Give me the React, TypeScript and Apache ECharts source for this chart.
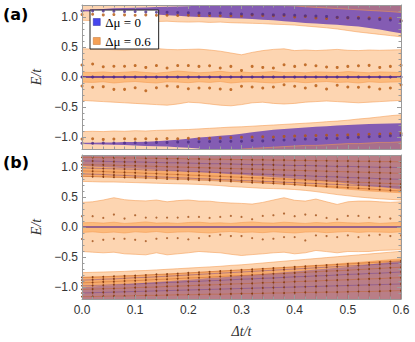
import React, { useEffect, useRef } from 'react';
import * as echarts from 'echarts';

// ---------- data ----------
const xs = [0, 0.02, 0.04, 0.06, 0.08, 0.1, 0.12, 0.14, 0.16, 0.18, 0.2, 0.22, 0.24, 0.26, 0.28, 0.3, 0.32, 0.34, 0.36, 0.38, 0.4, 0.42, 0.44, 0.46, 0.48, 0.5, 0.52, 0.54, 0.56, 0.58, 0.6];
const xTickLabels = ['0.0', '0.1', '0.2', '0.3', '0.4', '0.5', '0.6'];
const yMajor = [-1, -0.5, 0, 0.5, 1];

// panel (a)
const aTopPurpleLo = [1.095, 1.09, 1.08, 1.075, 1.07, 1.06, 1.05, 1.04, 1.03, 1.02, 1.01, 1.0, 0.995, 0.99, 0.98, 0.975, 0.965, 0.955, 0.945, 0.93, 0.915, 0.9, 0.89, 0.88, 0.87, 0.855, 0.84, 0.815, 0.79, 0.76, 0.73];
const aTopPurpleHi = [1.115, 1.125, 1.135, 1.145, 1.15, 1.155, 1.16, 1.165, 1.17, 1.175, 1.18, 1.19, 1.2, 1.3, 1.3, 1.3, 1.3, 1.3, 1.3, 1.3, 1.3, 1.3, 1.3, 1.3, 1.3, 1.3, 1.3, 1.3, 1.3, 1.3, 1.3];
const aTopOrangeLo = [0.945, 0.94, 0.945, 0.935, 0.94, 0.93, 0.935, 0.925, 0.93, 0.92, 0.915, 0.92, 0.91, 0.915, 0.905, 0.9, 0.895, 0.89, 0.88, 0.875, 0.865, 0.85, 0.835, 0.82, 0.8, 0.775, 0.75, 0.73, 0.71, 0.69, 0.67];
const aTopExtraLo = [1.3, 1.3, 1.3, 1.3, 1.3, 1.3, 1.3, 1.3, 1.3, 1.3, 1.3, 1.3, 1.3, 1.3, 1.3, 1.3, 1.3, 1.3, 1.2, 1.19, 1.185, 1.17, 1.16, 1.15, 1.14, 1.13, 1.12, 1.11, 1.1, 1.09, 1.075];
const aMidHi = [0.47, 0.465, 0.46, 0.455, 0.45, 0.46, 0.47, 0.475, 0.46, 0.455, 0.46, 0.465, 0.45, 0.43, 0.4, 0.37, 0.41, 0.44, 0.46, 0.47, 0.44, 0.45, 0.44, 0.45, 0.46, 0.445, 0.44, 0.45, 0.445, 0.45, 0.455];
const aMidLo = [-0.39, -0.4, -0.41, -0.42, -0.43, -0.44, -0.45, -0.46, -0.47, -0.45, -0.42, -0.43, -0.45, -0.47, -0.48, -0.46, -0.43, -0.42, -0.44, -0.45, -0.44, -0.42, -0.41, -0.4, -0.41, -0.42, -0.43, -0.42, -0.41, -0.4, -0.39];
const aInnerHi = [0.08, 0.075, 0.085, 0.07, 0.08, 0.09, 0.075, 0.065, 0.08, 0.1, 0.085, 0.07, 0.08, 0.095, 0.075, 0.085, 0.07, 0.08, 0.09, 0.075, 0.08, 0.07, 0.085, 0.08, 0.075, 0.09, 0.08, 0.07, 0.085, 0.08, 0.075];
const aInnerLo = [-0.085, -0.09, -0.08, -0.1, -0.085, -0.075, -0.09, -0.1, -0.08, -0.085, -0.095, -0.08, -0.09, -0.075, -0.1, -0.085, -0.08, -0.09, -0.1, -0.085, -0.08, -0.095, -0.085, -0.075, -0.09, -0.085, -0.1, -0.08, -0.09, -0.085, -0.08];
const aBotOrangeHi = [-0.91, -0.905, -0.91, -0.9, -0.905, -0.895, -0.9, -0.89, -0.885, -0.88, -0.875, -0.865, -0.855, -0.845, -0.835, -0.83, -0.82, -0.81, -0.8, -0.79, -0.78, -0.77, -0.76, -0.745, -0.735, -0.72, -0.7, -0.685, -0.665, -0.645, -0.63];
const aBotPurpleHi = [-1.095, -1.095, -1.09, -1.09, -1.085, -1.085, -1.08, -1.07, -1.06, -1.045, -1.03, -1.01, -0.995, -0.98, -0.965, -0.945, -0.92, -0.9, -0.88, -0.865, -0.855, -0.84, -0.83, -0.82, -0.81, -0.8, -0.79, -0.785, -0.78, -0.775, -0.77];
const aBotPurpleLo = [-1.115, -1.12, -1.125, -1.13, -1.135, -1.14, -1.15, -1.155, -1.16, -1.17, -1.18, -1.19, -1.3, -1.3, -1.3, -1.3, -1.3, -1.3, -1.3, -1.3, -1.3, -1.3, -1.3, -1.3, -1.3, -1.3, -1.3, -1.3, -1.3, -1.3, -1.3];
const aBotExtraHi = [-1.3, -1.3, -1.3, -1.3, -1.3, -1.3, -1.3, -1.3, -1.3, -1.3, -1.3, -1.3, -1.3, -1.3, -1.3, -1.2, -1.19, -1.18, -1.17, -1.16, -1.15, -1.14, -1.14, -1.13, -1.12, -1.11, -1.11, -1.1, -1.09, -1.09, -1.08];
const aZero = [0, 0, 0, 0, 0, 0, 0, 0, 0, 0, 0, 0, 0, 0, 0, 0, 0, 0, 0, 0, 0, 0, 0, 0, 0, 0, 0, 0, 0, 0, 0];
const aDotPurpleTop = [1.105, 1.1, 1.1, 1.095, 1.09, 1.09, 1.085, 1.08, 1.08, 1.075, 1.07, 1.065, 1.06, 1.065, 1.055, 1.05, 1.045, 1.045, 1.035, 1.04, 1.03, 1.02, 1.015, 1.01, 0.995, 0.99, 0.98, 0.97, 0.96, 0.95, 0.93];
const aDotOrangeTop = [1.04, 1.045, 1.035, 1.04, 1.035, 1.03, 1.035, 1.03, 1.03, 1.025, 1.03, 1.027, 1.025, 1.02, 1.02, 1.015, 1.035, 1.025, 1.02, 1.025, 1.0, 1.01, 0.985, 0.975, 0.99, 0.985, 0.99, 0.985, 0.98, 0.975, 0.94];
const aDotOrangeUp = [0.2, 0.217, 0.17, 0.18, 0.18, 0.19, 0.16, 0.19, 0.15, 0.19, 0.19, 0.177, 0.188, 0.149, 0.177, 0.11, 0.177, 0.16, 0.149, 0.205, 0.177, 0.205, 0.188, 0.166, 0.16, 0.177, 0.188, 0.194, 0.16, 0.177, 0.194];
const aDotOrangeDown = [-0.15, -0.172, -0.161, -0.206, -0.206, -0.178, -0.228, -0.178, -0.15, -0.161, -0.195, -0.183, -0.183, -0.2, -0.21, -0.155, -0.166, -0.183, -0.166, -0.128, -0.155, -0.183, -0.144, -0.2, -0.138, -0.166, -0.172, -0.166, -0.2, -0.183, -0.128];
const aDotOrangeBot = [-1.035, -1.03, -1.04, -1.035, -1.03, -1.035, -1.03, -1.035, -1.025, -1.03, -1.02, -1.025, -1.02, -1.015, -1.01, -1.005, -1.0, -0.995, -1.0, -0.99, -0.985, -0.98, -0.975, -0.97, -0.97, -0.965, -0.96, -0.955, -0.95, -0.945, -0.94];
const aDotPurpleBot = [-1.105, -1.105, -1.1, -1.1, -1.1, -1.095, -1.095, -1.09, -1.09, -1.085, -1.085, -1.08, -1.075, -1.075, -1.07, -1.07, -1.06, -1.065, -1.05, -1.05, -1.045, -1.035, -1.04, -1.02, -1.025, -1.01, -1.005, -0.995, -0.99, -0.98, -0.97];

// panel (b)
const bTopLightLo = [0.76, 0.755, 0.75, 0.75, 0.745, 0.74, 0.735, 0.73, 0.725, 0.72, 0.715, 0.71, 0.7, 0.69, 0.675, 0.665, 0.655, 0.645, 0.64, 0.635, 0.625, 0.61, 0.59, 0.565, 0.54, 0.52, 0.5, 0.485, 0.47, 0.46, 0.45];
const bTopMedLo = [0.84, 0.84, 0.835, 0.83, 0.83, 0.825, 0.82, 0.815, 0.81, 0.805, 0.8, 0.79, 0.785, 0.775, 0.765, 0.755, 0.745, 0.735, 0.725, 0.715, 0.705, 0.69, 0.675, 0.66, 0.645, 0.63, 0.615, 0.6, 0.59, 0.58, 0.57];
const bTopPurpleLo = [1.02, 1.01, 1.0, 0.99, 0.98, 0.975, 0.965, 0.955, 0.945, 0.935, 0.925, 0.915, 0.905, 0.895, 0.88, 0.87, 0.855, 0.845, 0.83, 0.82, 0.805, 0.79, 0.775, 0.76, 0.745, 0.725, 0.705, 0.685, 0.665, 0.645, 0.625];
const bBotLightHi = [-0.76, -0.755, -0.75, -0.745, -0.74, -0.73, -0.725, -0.715, -0.705, -0.695, -0.685, -0.675, -0.665, -0.655, -0.64, -0.63, -0.615, -0.6, -0.585, -0.57, -0.555, -0.54, -0.525, -0.51, -0.495, -0.48, -0.465, -0.45, -0.435, -0.42, -0.405];
const bBotMedHi = [-0.84, -0.835, -0.83, -0.825, -0.815, -0.81, -0.8, -0.795, -0.785, -0.775, -0.765, -0.755, -0.745, -0.735, -0.725, -0.715, -0.705, -0.695, -0.685, -0.675, -0.665, -0.65, -0.64, -0.63, -0.615, -0.6, -0.59, -0.575, -0.56, -0.545, -0.53];
const bBotPurpleHi = [-1.0, -0.99, -0.98, -0.97, -0.955, -0.94, -0.93, -0.915, -0.905, -0.89, -0.88, -0.865, -0.85, -0.84, -0.825, -0.81, -0.8, -0.785, -0.77, -0.755, -0.74, -0.725, -0.71, -0.695, -0.68, -0.665, -0.645, -0.625, -0.605, -0.585, -0.565];
const bMidHi = [0.41, 0.42, 0.45, 0.488, 0.455, 0.44, 0.435, 0.45, 0.42, 0.44, 0.45, 0.432, 0.43, 0.41, 0.4, 0.393, 0.382, 0.41, 0.45, 0.488, 0.445, 0.432, 0.466, 0.42, 0.376, 0.42, 0.432, 0.432, 0.42, 0.41, 0.42];
const bMidLo = [-0.408, -0.42, -0.43, -0.42, -0.447, -0.455, -0.464, -0.43, -0.464, -0.447, -0.43, -0.408, -0.42, -0.43, -0.455, -0.475, -0.46, -0.447, -0.43, -0.42, -0.447, -0.43, -0.391, -0.41, -0.43, -0.408, -0.41, -0.408, -0.39, -0.385, -0.375];
const bInnerHi = [0.07, 0.075, 0.065, 0.08, 0.06, 0.07, 0.085, 0.065, 0.07, 0.06, 0.075, 0.08, 0.065, 0.07, 0.06, 0.075, 0.085, 0.07, 0.065, 0.08, 0.07, 0.06, 0.075, 0.065, 0.08, 0.07, 0.065, 0.075, 0.06, 0.07, 0.075];
const bInnerLo = [-0.09, -0.08, -0.095, -0.085, -0.1, -0.08, -0.09, -0.075, -0.095, -0.085, -0.08, -0.09, -0.1, -0.085, -0.075, -0.09, -0.085, -0.095, -0.08, -0.09, -0.1, -0.085, -0.08, -0.095, -0.085, -0.075, -0.09, -0.08, -0.085, -0.09, -0.08];
const bDotUp = [0.18, 0.18, 0.152, 0.208, 0.141, 0.196, 0.157, 0.157, 0.157, 0.157, 0.168, 0.168, 0.152, 0.168, 0.185, 0.168, 0.129, 0.185, 0.196, 0.224, 0.18, 0.208, 0.196, 0.152, 0.129, 0.185, 0.185, 0.157, 0.168, 0.141, 0.185];
const bDotDown = [-0.2, -0.235, -0.213, -0.196, -0.196, -0.213, -0.235, -0.196, -0.185, -0.185, -0.207, -0.185, -0.151, -0.129, -0.151, -0.151, -0.185, -0.207, -0.196, -0.168, -0.168, -0.224, -0.14, -0.151, -0.168, -0.14, -0.168, -0.14, -0.129, -0.151, -0.14];
const bStripeT1 = [1.16, 1.16, 1.155, 1.155, 1.15, 1.15, 1.145, 1.145, 1.14, 1.14, 1.135, 1.135, 1.13, 1.13, 1.125, 1.125, 1.12, 1.12, 1.115, 1.115, 1.11, 1.11, 1.105, 1.105, 1.1, 1.1, 1.095, 1.095, 1.09, 1.09, 1.085];
const bStripeT2 = [1.1, 1.1, 1.095, 1.09, 1.085, 1.085, 1.08, 1.075, 1.07, 1.07, 1.065, 1.06, 1.055, 1.055, 1.05, 1.045, 1.04, 1.04, 1.035, 1.03, 1.025, 1.025, 1.02, 1.015, 1.01, 1.01, 1.005, 1.0, 0.995, 0.995, 0.99];
const bStripeT3 = [1.04, 1.035, 1.035, 1.03, 1.025, 1.02, 1.015, 1.01, 1.005, 1.0, 0.995, 0.99, 0.985, 0.98, 0.975, 0.97, 0.965, 0.96, 0.955, 0.95, 0.945, 0.94, 0.935, 0.93, 0.925, 0.92, 0.915, 0.91, 0.905, 0.9, 0.895];
const bStripeT4 = [0.985, 0.98, 0.975, 0.97, 0.965, 0.96, 0.95, 0.945, 0.94, 0.935, 0.925, 0.92, 0.915, 0.905, 0.9, 0.895, 0.885, 0.88, 0.875, 0.865, 0.86, 0.855, 0.845, 0.84, 0.835, 0.825, 0.82, 0.815, 0.805, 0.8, 0.795];
const bStripeT5 = [0.935, 0.93, 0.925, 0.915, 0.91, 0.905, 0.895, 0.89, 0.88, 0.875, 0.865, 0.86, 0.85, 0.845, 0.835, 0.83, 0.82, 0.815, 0.805, 0.8, 0.79, 0.785, 0.775, 0.77, 0.76, 0.755, 0.745, 0.74, 0.73, 0.725, 0.715];
const bStripeT6 = [0.885, 0.88, 0.875, 0.865, 0.86, 0.85, 0.845, 0.835, 0.83, 0.82, 0.815, 0.805, 0.8, 0.79, 0.785, 0.775, 0.77, 0.76, 0.755, 0.745, 0.74, 0.73, 0.725, 0.715, 0.71, 0.7, 0.695, 0.685, 0.68, 0.67, 0.665];
const bStripeT7 = [0.845, 0.84, 0.835, 0.83, 0.825, 0.82, 0.815, 0.81, 0.8, 0.795, 0.79, 0.78, 0.775, 0.765, 0.76, 0.75, 0.74, 0.735, 0.725, 0.715, 0.705, 0.695, 0.685, 0.675, 0.665, 0.655, 0.645, 0.635, 0.62, 0.61, 0.6];
const bStripeB1 = [-1.16, -1.16, -1.155, -1.15, -1.15, -1.145, -1.14, -1.14, -1.135, -1.13, -1.13, -1.125, -1.12, -1.12, -1.115, -1.11, -1.11, -1.105, -1.1, -1.1, -1.095, -1.09, -1.09, -1.085, -1.085, -1.08, -1.075, -1.075, -1.07, -1.065, -1.06];
const bStripeB2 = [-1.1, -1.095, -1.09, -1.085, -1.08, -1.075, -1.07, -1.065, -1.06, -1.055, -1.05, -1.045, -1.04, -1.035, -1.03, -1.025, -1.02, -1.015, -1.01, -1.005, -1.0, -0.995, -0.99, -0.985, -0.98, -0.975, -0.97, -0.965, -0.96, -0.955, -0.95];
const bStripeB3 = [-1.04, -1.035, -1.03, -1.025, -1.02, -1.01, -1.005, -1.0, -0.99, -0.985, -0.98, -0.97, -0.965, -0.96, -0.95, -0.945, -0.94, -0.93, -0.925, -0.92, -0.91, -0.905, -0.9, -0.89, -0.885, -0.88, -0.87, -0.865, -0.86, -0.85, -0.845];
const bStripeB4 = [-0.98, -0.975, -0.97, -0.96, -0.955, -0.95, -0.94, -0.935, -0.925, -0.92, -0.91, -0.905, -0.895, -0.89, -0.88, -0.87, -0.865, -0.855, -0.85, -0.84, -0.83, -0.825, -0.815, -0.81, -0.8, -0.79, -0.785, -0.775, -0.77, -0.76, -0.75];
const bStripeB5 = [-0.93, -0.925, -0.915, -0.91, -0.9, -0.895, -0.885, -0.875, -0.87, -0.86, -0.85, -0.845, -0.835, -0.825, -0.815, -0.81, -0.8, -0.79, -0.78, -0.775, -0.765, -0.755, -0.745, -0.735, -0.73, -0.72, -0.71, -0.7, -0.69, -0.68, -0.67];
const bStripeB6 = [-0.885, -0.88, -0.87, -0.865, -0.855, -0.845, -0.84, -0.83, -0.82, -0.81, -0.8, -0.79, -0.78, -0.77, -0.76, -0.75, -0.74, -0.73, -0.72, -0.71, -0.7, -0.69, -0.68, -0.67, -0.66, -0.65, -0.64, -0.63, -0.62, -0.61, -0.6];
const bStripeB7 = [-0.84, -0.835, -0.83, -0.82, -0.815, -0.81, -0.8, -0.79, -0.785, -0.775, -0.765, -0.755, -0.745, -0.735, -0.725, -0.715, -0.705, -0.695, -0.685, -0.675, -0.665, -0.655, -0.645, -0.635, -0.625, -0.615, -0.605, -0.595, -0.585, -0.575, -0.565];

// ---------- styling ----------
const PURPLE_NAME = 'Δμ = 0';
const ORANGE_NAME = 'Δμ = 0.6';
const Y_MIN = -1.2;
const Y_MAX = 1.2;
const TOP = 1.3;
const BOT = -1.3;
const LIGHT = 'rgba(250,150,60,0.4)';
const INNER = 'rgba(250,150,50,0.42)';
const MED = 'rgba(240,130,40,0.5)';
const EXTRA = 'rgba(235,145,70,0.35)';
const EDGE = 'rgba(245,155,80,0.7)';
const PURPLE_A = 'rgba(110,70,180,0.85)';
const PURPLE_B = 'rgba(100,65,175,0.42)';
const STRIPE_O = 'rgba(195,95,35,0.5)';
const STRIPE_P = 'rgba(95,55,150,0.45)';
const FRAME = '#9a9a9a';

type Edge = number[] | number;
const at = (e: Edge, i: number) => (typeof e === 'number' ? e : e[i]);

function band(name: string, gi: number, lo: Edge, hi: Edge, fill: string, stroke: string | null, z: number) {
  return {
    type: 'custom',
    name,
    xAxisIndex: gi * 2,
    yAxisIndex: gi * 4,
    clip: true,
    silent: true,
    z,
    data: [[0, 0]],
    renderItem: (_p: any, api: any) => {
      const pts: number[][] = [];
      for (let i = 0; i < xs.length; i++) pts.push(api.coord([xs[i], at(hi, i)]));
      for (let i = xs.length - 1; i >= 0; i--) pts.push(api.coord([xs[i], at(lo, i)]));
      return {
        type: 'polygon',
        shape: { points: pts },
        style: { fill, stroke: stroke || 'none', lineWidth: 0.8 },
      };
    },
  };
}

function dots(gi: number, arr: number[], color: string, size: number, z: number) {
  return {
    type: 'scatter',
    xAxisIndex: gi * 2,
    yAxisIndex: gi * 4,
    silent: true,
    z,
    symbolSize: size,
    itemStyle: { color },
    data: xs.map((x, i) => [x, arr[i]]),
  };
}

function stripe(gi: number, arr: number[], color: string, z: number) {
  return {
    type: 'line',
    xAxisIndex: gi * 2,
    yAxisIndex: gi * 4,
    silent: true,
    z,
    symbol: 'circle',
    symbolSize: 1.8,
    showSymbol: true,
    showAllSymbol: true,
    lineStyle: { color, width: 0.9 },
    itemStyle: { color: '#8a4015' },
    data: xs.map((x, i) => [x, arr[i]]),
  };
}

function vlines(gi: number, from: number[], to: number, z: number) {
  return {
    type: 'custom',
    xAxisIndex: gi * 2,
    yAxisIndex: gi * 4,
    clip: true,
    silent: true,
    z,
    data: xs.map((x, i) => [x, from[i]]),
    renderItem: (_p: any, api: any) => {
      const a = api.coord([api.value(0), api.value(1)]);
      const b = api.coord([api.value(0), to]);
      return {
        type: 'line',
        shape: { x1: a[0], y1: a[1], x2: b[0], y2: b[1] },
        style: { stroke: 'rgba(120,50,20,0.28)', lineWidth: 0.8 },
      };
    },
  };
}

function zeroLine(gi: number, width: number, withDots: boolean) {
  return {
    type: 'line',
    xAxisIndex: gi * 2,
    yAxisIndex: gi * 4,
    silent: true,
    z: 8,
    symbol: 'circle',
    symbolSize: withDots ? 3 : 0,
    showSymbol: withDots,
    showAllSymbol: true,
    lineStyle: { color: '#76468f', width },
    itemStyle: { color: '#55308a' },
    data: xs.map((x, i) => [x, aZero[i]]),
  };
}

const labelFont = { color: '#333', fontFamily: 'Liberation Sans', fontSize: 12 };
const nameFont = { color: '#333', fontFamily: 'Liberation Serif', fontStyle: 'italic', fontSize: 14 };

function xAxis(gi: number, position: string, labels: boolean) {
  return {
    type: 'value',
    gridIndex: gi,
    position,
    min: 0,
    max: 0.6,
    interval: 0.1,
    z: 10,
    axisLine: { show: true, onZero: false, lineStyle: { color: FRAME, width: 1 } },
    axisTick: { show: true, inside: true, length: 4, lineStyle: { color: FRAME } },
    minorTick: { show: true, splitNumber: 5, length: 2.5, lineStyle: { color: FRAME } },
    axisLabel: {
      show: labels,
      margin: 5,
      ...labelFont,
      formatter: (v: number) => xTickLabels[Math.round(v * 10)] ?? '',
    },
    splitLine: { show: false },
    minorSplitLine: { show: false },
    name: labels ? 'Δt/t' : '',
    nameLocation: 'middle',
    nameGap: 25,
    nameTextStyle: nameFont,
  };
}

function yAxes(gi: number) {
  const fmt = (v: number) => (v < -1e-9 ? '−' : '') + Math.abs(v).toFixed(1);
  const major = (position: string, labels: boolean) => ({
    type: 'value',
    gridIndex: gi,
    position,
    min: Y_MIN,
    max: Y_MAX,
    interval: 0.1,
    z: 10,
    axisLine: { show: true, onZero: false, lineStyle: { color: FRAME, width: 1 } },
    axisTick: { show: true, inside: true, length: 4, customValues: yMajor, lineStyle: { color: FRAME } },
    axisLabel: { show: labels, customValues: yMajor, margin: 4, ...labelFont, formatter: fmt },
    splitLine: { show: false },
    name: labels ? 'E/t' : '',
    nameLocation: 'middle',
    nameGap: 33,
    nameTextStyle: nameFont,
  });
  const minor = (position: string) => ({
    type: 'value',
    gridIndex: gi,
    position,
    min: Y_MIN,
    max: Y_MAX,
    interval: 0.1,
    z: 10,
    axisLine: { show: false, onZero: false },
    axisTick: { show: true, inside: true, length: 2.5, lineStyle: { color: FRAME } },
    axisLabel: { show: false },
    splitLine: { show: false },
  });
  return [major('left', true), minor('left'), major('right', false), minor('right')];
}

const seriesA = [
  band(ORANGE_NAME, 0, aTopOrangeLo, TOP, LIGHT, EDGE, 1),
  band(ORANGE_NAME, 0, aMidLo, aMidHi, LIGHT, EDGE, 1),
  band(ORANGE_NAME, 0, BOT, aBotOrangeHi, LIGHT, EDGE, 1),
  band(ORANGE_NAME, 0, aInnerLo, aInnerHi, INNER, EDGE, 2),
  band(PURPLE_NAME, 0, aTopPurpleLo, aTopPurpleHi, PURPLE_A, null, 3),
  band(PURPLE_NAME, 0, aBotPurpleLo, aBotPurpleHi, PURPLE_A, null, 3),
  band(ORANGE_NAME, 0, aTopExtraLo, TOP, EXTRA, EDGE, 4),
  band(ORANGE_NAME, 0, BOT, aBotExtraHi, EXTRA, EDGE, 4),
  zeroLine(0, 2, true),
  dots(0, aDotOrangeTop, '#b4560c', 3, 9),
  dots(0, aDotOrangeUp, '#b4560c', 3, 9),
  dots(0, aDotOrangeDown, '#b4560c', 3, 9),
  dots(0, aDotOrangeBot, '#b4560c', 3, 9),
  dots(0, aDotPurpleTop, '#4b2d85', 3, 9),
  dots(0, aDotPurpleBot, '#4b2d85', 3, 9),
];

const topStripes = [bStripeT1, bStripeT2, bStripeT3, bStripeT4, bStripeT5, bStripeT6, bStripeT7];
const botStripes = [bStripeB1, bStripeB2, bStripeB3, bStripeB4, bStripeB5, bStripeB6, bStripeB7];

const seriesB = [
  band(ORANGE_NAME, 1, bTopLightLo, TOP, LIGHT, EDGE, 1),
  band(ORANGE_NAME, 1, BOT, bBotLightHi, LIGHT, EDGE, 1),
  band(ORANGE_NAME, 1, bMidLo, bMidHi, LIGHT, EDGE, 1),
  band(ORANGE_NAME, 1, bInnerLo, bInnerHi, INNER, EDGE, 2),
  band(ORANGE_NAME, 1, bTopMedLo, TOP, MED, EDGE, 2),
  band(ORANGE_NAME, 1, BOT, bBotMedHi, MED, EDGE, 2),
  band(PURPLE_NAME, 1, bTopPurpleLo, TOP, PURPLE_B, null, 3),
  band(PURPLE_NAME, 1, BOT, bBotPurpleHi, PURPLE_B, null, 3),
  ...topStripes.map((s, k) => stripe(1, s, k % 2 ? STRIPE_P : STRIPE_O, 5)),
  ...botStripes.map((s, k) => stripe(1, s, k % 2 ? STRIPE_P : STRIPE_O, 5)),
  vlines(1, bStripeT7, Y_MAX, 6),
  vlines(1, bStripeB7, Y_MIN, 6),
  zeroLine(1, 1.5, false),
  dots(1, bDotUp, '#a0501a', 2.2, 9),
  dots(1, bDotDown, '#a0501a', 2.2, 9),
];

const option: any = {
  animation: false,
  backgroundColor: '#fff',
  grid: [
    { left: 82, top: 5, width: 319, height: 144 },
    { left: 82, top: 155, width: 319, height: 144 },
  ],
  xAxis: [xAxis(0, 'bottom', false), xAxis(0, 'top', false), xAxis(1, 'bottom', true), xAxis(1, 'top', false)],
  yAxis: [...yAxes(0), ...yAxes(1)],
  legend: {
    left: 90,
    top: 10,
    orient: 'vertical',
    icon: 'rect',
    itemWidth: 7,
    itemHeight: 7,
    itemGap: 5,
    padding: [5, 8, 1, 3],
    backgroundColor: '#fff',
    borderColor: '#222',
    borderWidth: 1,
    borderRadius: 0,
    selectedMode: false,
    textStyle: { fontFamily: 'Liberation Serif', fontSize: 13, color: '#000', lineHeight: 14 },
    data: [
      { name: PURPLE_NAME, itemStyle: { color: '#4646ee', borderColor: '#2a2aa0', borderWidth: 0.5 } },
      { name: ORANGE_NAME, itemStyle: { color: '#f5a055', borderColor: '#c07030', borderWidth: 0.5 } },
    ],
  },
  graphic: [
    { type: 'text', left: 3, top: 6, z: 20, style: { text: '(a)', fontFamily: 'DejaVu Sans', fontWeight: 'bold', fontSize: 16, fill: '#000' } },
    { type: 'text', left: 3, top: 154, z: 20, style: { text: '(b)', fontFamily: 'DejaVu Sans', fontWeight: 'bold', fontSize: 16, fill: '#000' } },
  ],
  series: [...seriesA, ...seriesB],
};

export default function App() {
  const ref = useRef<HTMLDivElement>(null);
  useEffect(() => {
    const chart = echarts.init(ref.current!, undefined, { renderer: 'svg' });
    chart.setOption(option);
    return () => chart.dispose();
  }, []);
  return <div ref={ref} style={{ width: 415, height: 342, position: 'absolute', left: 0, top: 0 }} />;
}
